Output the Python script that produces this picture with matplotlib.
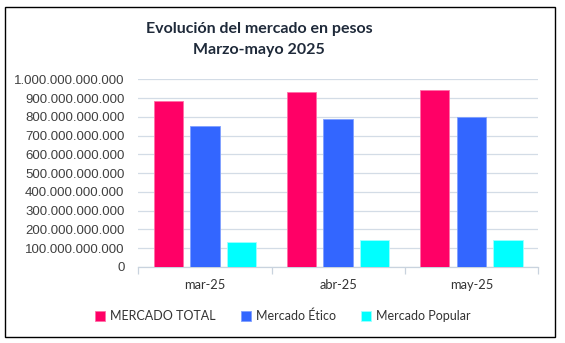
import matplotlib
matplotlib.use("Agg")
import matplotlib.pyplot as plt
from matplotlib.patches import Rectangle
from matplotlib.ticker import FuncFormatter, MultipleLocator
import numpy as np

categories = ["mar-25", "abr-25", "may-25"]
series_names = ["MERCADO TOTAL", "Mercado Ético", "Mercado Popular"]
mercado_total = [883e9, 931e9, 941e9]
mercado_etico = [750e9, 787e9, 797e9]
mercado_popular = [133e9, 142e9, 143e9]
colors = ["#FF0066", "#3366FF", "#00FFFF"]
edge_colors = ["#FF6FA8", "#7F9FFF", "#9FFFFF"]

title_lines = ["Evolución del mercado en pesos", "Marzo-mayo 2025"]

fig = plt.figure(figsize=(5.65, 3.43), dpi=100)
fig.patch.set_facecolor("white")

ax = fig.add_axes([0.2448, 0.2216, 0.952 - 0.2448, 0.7688 - 0.2216])

x = np.arange(len(categories))
width = 0.22
step = 0.275
all_series = [mercado_total, mercado_etico, mercado_popular]
handles = []
for i, (vals, c, ec, name) in enumerate(zip(all_series, colors, edge_colors, series_names)):
    b = ax.bar(x + (i - 1) * step, vals, width, color=c, edgecolor=ec, linewidth=0.6,
               label=name, zorder=3)
    handles.append(b)

ax.set_xlim(-0.5, 2.5)
ax.set_ylim(0, 1e12)
ax.yaxis.set_major_locator(MultipleLocator(1e11))
ax.yaxis.set_major_formatter(FuncFormatter(lambda v, p: f"{int(round(v)):,}".replace(",", ".")))
ax.grid(axis="y", color="#D3DCE6", linewidth=0.9, zorder=0)
ax.set_axisbelow(True)
for s in ["top", "right", "left"]:
    ax.spines[s].set_visible(False)
ax.spines["bottom"].set_color("#C9D3DE")
ax.spines["bottom"].set_linewidth(0.9)

ax.tick_params(axis="y", length=0, pad=10, labelsize=9.5, labelcolor="#404040")
for lab in ax.get_yticklabels():
    lab.set_fontfamily("Liberation Sans")

ax.set_xticks(x)
ax.set_xticklabels(categories, fontfamily="Lato", fontsize=9.3, color="#333333")
ax.set_xticks([-0.5, 0.5, 1.5, 2.5], minor=True)
ax.tick_params(axis="x", which="major", length=0, pad=9)
ax.tick_params(axis="x", which="minor", length=5, color="#C9D3DE", width=0.9)

fig.text(259 / 565, 1 - 29 / 343, title_lines[0], ha="center", va="center",
         fontfamily="Lato", fontweight="bold", fontsize=11.5, color="#1F2A3A")
fig.text(259 / 565, 1 - 50 / 343, title_lines[1], ha="center", va="center",
         fontfamily="Lato", fontweight="bold", fontsize=11.5, color="#1F2A3A")

leg = fig.legend(handles=handles, labels=series_names, loc="center",
                 bbox_to_anchor=(283 / 565, 1 - 316 / 343), ncol=3, frameon=False,
                 prop={"family": "Lato", "size": 9}, handlelength=0.8, handleheight=0.8,
                 handletextpad=0.4, columnspacing=2.0)
for t in leg.get_texts():
    t.set_color("#333333")

fig.add_artist(Rectangle((5 / 565, 1 - 337 / 343), 550 / 565, 330 / 343,
                         transform=fig.transFigure, fill=False, edgecolor="black",
                         linewidth=1.0))

fig.savefig("out.png", dpi=100, facecolor="white")
